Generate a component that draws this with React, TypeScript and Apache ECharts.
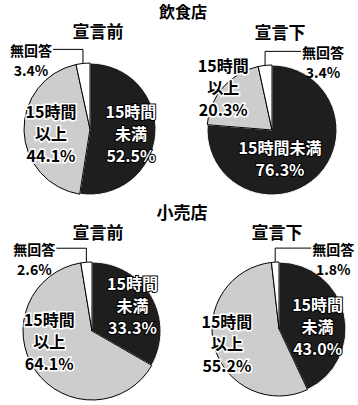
import React, { useEffect, useRef } from "react";
import * as echarts from "echarts";

const CATEGORIES = ["15時間未満", "15時間以上", "無回答"];
const GROUP_TITLES = ["飲食店", "小売店"];
const PERIODS = ["宣言前", "宣言下"];
const INSHOKU_MAE = [52.5, 44.1, 3.4];
const INSHOKU_KA = [76.3, 20.3, 3.4];
const KOURI_MAE = [33.3, 64.1, 2.6];
const KOURI_KA = [43.0, 55.2, 1.8];

const FONT = '"Noto Sans CJK JP", "Noto Sans", sans-serif';

type PieCfg = {
  values: number[];
  center: [number, number];
  radius: number;
  side: "left" | "right";
  oneLine: boolean;
  darkOff: [number, number];
  lightOff: [number, number];
};

const PIES: PieCfg[] = [
  { values: INSHOKU_MAE, center: [90, 129], radius: 66, side: "left", oneLine: false, darkOff: [5, 1], lightOff: [-3, 3] },
  { values: INSHOKU_KA, center: [272, 130], radius: 65, side: "right", oneLine: true, darkOff: [-16, 2], lightOff: [-22, -20] },
  { values: KOURI_MAE, center: [92, 331], radius: 69, side: "left", oneLine: false, darkOff: [8, -7], lightOff: [-12, -11] },
  { values: KOURI_KA, center: [279, 329], radius: 67, side: "right", oneLine: false, darkOff: [3, 5], lightOff: [-17, 4] },
];

function splitCat(name: string, oneLine: boolean) {
  if (oneLine) return name;
  return name.slice(0, 4) + "\n" + name.slice(4);
}

export default function App() {
  const ref = useRef<HTMLDivElement>(null);
  useEffect(() => {
    document.body.style.margin = "0";
    const chart = echarts.init(ref.current!, undefined, { renderer: "svg" });
    const series = PIES.map((p) => ({
      type: "pie",
      center: p.center,
      radius: p.radius,
      startAngle: 90,
      clockwise: true,
      silent: true,
      avoidLabelOverlap: false,
      itemStyle: { borderColor: "#000", borderWidth: 1 },
      labelLine: { show: true, length: 12, length2: 30, lineStyle: { color: "#000", width: 1 } },
      labelLayout: (params: any) => {
        if (params.dataIndex !== 2) return {};
        const pts = params.labelLinePoints;
        if (!pts || !pts[0]) return {};
        const a = pts[0];
        const elbowY = a[1] - 14;
        const w = params.labelRect.width;
        let endX: number;
        let x: number;
        if (p.side === "left") {
          endX = a[0] - 30;
          x = endX - w / 2 - 1;
        } else {
          endX = a[0] + 36;
          x = endX + w / 2 + 1;
        }
        return {
          x,
          y: elbowY - 9,
          align: "center",
          verticalAlign: "top",
          labelLinePoints: [
            [a[0], a[1]],
            [a[0], elbowY],
            [endX, elbowY],
          ],
        };
      },
      data: p.values.map((v, i) => {
        const name = CATEGORIES[i];
        if (i === 0) {
          return {
            name,
            value: v,
            itemStyle: { color: "#1e1e1e", borderColor: "#fff" },
            labelLine: { show: false },
            label: {
              show: true,
              position: "inside",
              offset: p.darkOff,
              formatter: splitCat(name, p.oneLine) + "\n" + v.toFixed(1) + "%",
              color: "#fff",
              textBorderColor: "#000",
              textBorderWidth: 2,
              fontFamily: FONT,
              fontWeight: "bold",
              fontSize: 16,
              lineHeight: 22,
              align: "center",
            },
          };
        }
        if (i === 1) {
          return {
            name,
            value: v,
            itemStyle: { color: "#cdcdcd" },
            labelLine: { show: false },
            label: {
              show: true,
              position: "inside",
              offset: p.lightOff,
              formatter: splitCat(name, false) + "\n" + v.toFixed(1) + "%",
              color: "#000",
              textBorderColor: "#fff",
              textBorderWidth: 3,
              fontFamily: FONT,
              fontWeight: "bold",
              fontSize: 16,
              lineHeight: 22,
              align: "center",
            },
          };
        }
        return {
          name,
          value: v,
          itemStyle: { color: "#fff" },
          label: {
            show: true,
            position: "outside",
            formatter: name + "\n" + v.toFixed(1) + "%",
            color: "#000",
            fontFamily: FONT,
            fontWeight: "bold",
            fontSize: 14,
            lineHeight: 20,
            align: "center",
          },
        };
      }),
    }));

    const titleStyle = (text: string, x: number, y: number, size: number) => ({
      type: "text",
      x,
      y,
      style: {
        text,
        font: `bold ${size}px ${FONT}`,
        fill: "#000",
        textAlign: "center",
        textVerticalAlign: "middle",
      },
    });

    chart.setOption({
      animation: false,
      backgroundColor: "#fff",
      graphic: [
        titleStyle(GROUP_TITLES[0], 183, 11, 16),
        titleStyle(PERIODS[0], 98, 30, 17),
        titleStyle(PERIODS[1], 280, 31, 17),
        titleStyle(GROUP_TITLES[1], 182, 211, 17),
        titleStyle(PERIODS[0], 98, 231, 17),
        titleStyle(PERIODS[1], 277, 231, 17),
      ],
      series,
    });
    return () => chart.dispose();
  }, []);
  return <div ref={ref} style={{ width: 358, height: 405 }} />;
}
